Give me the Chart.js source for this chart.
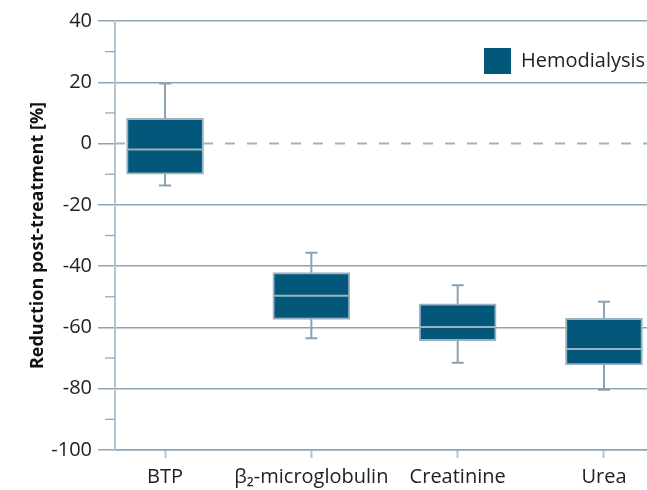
<!DOCTYPE html>
<html>
<head>
<meta charset="utf-8">
<script src="https://cdn.jsdelivr.net/npm/chart.js@4.4.1/dist/chart.umd.min.js"></script>
<style>
  html, body { margin: 0; padding: 0; background: #fff; }
  #wrap { width: 647px; height: 490px; }
</style>
</head>
<body>
<div id="wrap"><canvas id="box" width="647" height="490"></canvas></div>
<script>
const categories  = ['BTP', 'β₂-microglobulin', 'Creatinine', 'Urea'];
const whiskerHigh = [19.6, -35.6, -46.2, -51.6];
const q3          = [8.2, -42.1, -52.3, -57.0];
const median      = [-1.9, -49.7, -59.9, -67.0];
const q1          = [-10.0, -57.4, -64.3, -72.2];
const whiskerLow  = [-13.7, -63.5, -71.5, -80.3];
const seriesName  = 'Hemodialysis';

const FONT = "'Open Sans', 'DejaVu Sans', sans-serif";
const boxFill   = '#02577a';
const boxEdge   = '#9cb2c0';
const whiskerC  = '#8aa2b2';
const gridC     = '#8da4b3';
const axisC     = '#b1c4d0';

// whiskers + zero reference line go under the boxes, medians on top
const boxExtras = {
  id: 'boxExtras',
  beforeDatasetsDraw(chart) {
    const { ctx, chartArea, scales: { x, y } } = chart;
    ctx.save();
    // dashed zero line
    ctx.strokeStyle = '#9fb4c2';
    ctx.lineWidth = 2;
    ctx.setLineDash([10, 12]);
    ctx.beginPath();
    ctx.moveTo(chartArea.left, y.getPixelForValue(0));
    ctx.lineTo(chartArea.right, y.getPixelForValue(0));
    ctx.stroke();
    ctx.setLineDash([]);
    // minor ticks
    ctx.strokeStyle = gridC;
    ctx.lineWidth = 1.2;
    y.ticks.forEach(t => {
      if (t.value % 20 === 0) return;
      const py = y.getPixelForValue(t.value);
      ctx.beginPath();
      ctx.moveTo(chartArea.left - 10, py);
      ctx.lineTo(chartArea.left, py);
      ctx.stroke();
    });
    // whiskers
    ctx.strokeStyle = whiskerC;
    ctx.lineWidth = 2;
    categories.forEach((c, i) => {
      const px = x.getPixelForValue(i);
      const top = y.getPixelForValue(whiskerHigh[i]);
      const bot = y.getPixelForValue(whiskerLow[i]);
      ctx.beginPath();
      ctx.moveTo(px, top); ctx.lineTo(px, bot);
      ctx.moveTo(px - 6, top); ctx.lineTo(px + 6, top);
      ctx.moveTo(px - 6, bot); ctx.lineTo(px + 6, bot);
      ctx.stroke();
    });
    ctx.restore();
  },
  afterDatasetsDraw(chart) {
    const { ctx, scales: { y } } = chart;
    const meta = chart.getDatasetMeta(0);
    ctx.save();
    ctx.strokeStyle = boxEdge;
    ctx.lineWidth = 2;
    meta.data.forEach((bar, i) => {
      const py = y.getPixelForValue(median[i]);
      ctx.beginPath();
      ctx.moveTo(bar.x - bar.width / 2 + 1, py);
      ctx.lineTo(bar.x + bar.width / 2 - 1, py);
      ctx.stroke();
    });
    // legend
    const ds = chart.data.datasets[0];
    ctx.fillStyle = ds.backgroundColor;
    ctx.fillRect(484, 48, 27, 26);
    ctx.fillStyle = '#222';
    ctx.font = '20px ' + FONT;
    ctx.textBaseline = 'middle';
    ctx.fillText(ds.label, 521, 61);
    ctx.restore();
  }
};

new Chart(document.getElementById('box'), {
  type: 'bar',
  data: {
    datasets: [{
      label: seriesName,
      data: categories.map((c, i) => ({ x: i, y: [q1[i], q3[i]] })),
      backgroundColor: boxFill,
      borderColor: boxEdge,
      borderWidth: 2,
      borderSkipped: false,
      barThickness: 77
    }]
  },
  options: {
    responsive: false,
    animation: false,
    layout: { padding: { top: 21, right: 0, left: 0, bottom: 0 } },
    plugins: { legend: { display: false }, tooltip: { enabled: false } },
    scales: {
      x: {
        type: 'linear',
        offset: false,
        min: -0.342,
        max: 3.294,
        afterBuildTicks: s => { s.ticks = categories.map((c, i) => ({ value: i })); },
        afterFit: s => { s.height = 40; },
        grid: { offset: false, drawOnChartArea: false, tickLength: 8, tickColor: axisC, tickWidth: 2 },
        border: { color: gridC, width: 1.5 },
        ticks: {
          color: '#222', padding: 7, maxRotation: 0, autoSkip: false,
          font: { family: FONT, size: 20 },
          callback: v => categories[v]
        }
      },
      y: {
        min: -100,
        max: 40,
        afterFit: s => { s.width = 115; },
        ticks: {
          stepSize: 10, color: '#222', padding: 6,
          font: { family: FONT, size: 20 },
          callback: v => (v % 20 === 0 ? v : '')
        },
        grid: {
          tickLength: 17,
          lineWidth: 1.5,
          color: c => (c.tick && c.tick.value % 20 === 0 && c.tick.value !== 0 ? gridC : 'rgba(0,0,0,0)'),
          tickColor: c => (c.tick && c.tick.value % 20 === 0 ? gridC : 'rgba(0,0,0,0)')
        },
        border: { color: axisC, width: 2 },
        title: {
          display: true,
          text: 'Reduction post-treatment [%]',
          color: '#111',
          font: { family: FONT, size: 18, weight: 'bold' },
          padding: { top: 27, bottom: 0 }
        }
      }
    }
  },
  plugins: [boxExtras]
});
</script>
</body>
</html>
